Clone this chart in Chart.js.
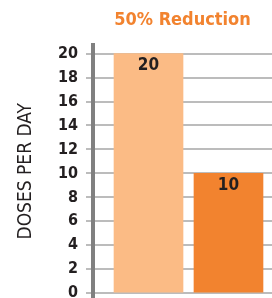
<!DOCTYPE html>
<html>
<head>
<meta charset="utf-8">
<script src="https://cdn.jsdelivr.net/npm/chart.js@4"></script>
<style>
  html, body { margin: 0; padding: 0; background: #fff; }
  #wrap { width: 272px; height: 298px; }
</style>
</head>
<body>
<div id="wrap"><canvas id="dosesChart" width="272" height="298"></canvas></div>
<script>
// data
const categories = ['Current', 'Reduced'];
const dosesPerDay = [20, 10];
const barColors = ['#fbbb85', '#f2832f'];
const yTicks = [0, 2, 4, 6, 8, 10, 12, 14, 16, 18, 20];

const FONT = "'Liberation Sans Narrow', 'DejaVu Sans Condensed', sans-serif";
const TEXT = '#231f20';

// label di dalam batang
const barLabels = {
  id: 'barLabels',
  afterDatasetsDraw(chart) {
    const { ctx } = chart;
    const meta = chart.getDatasetMeta(0);
    ctx.save();
    ctx.font = 'bold 17px ' + FONT;
    ctx.fillStyle = TEXT;
    ctx.textAlign = 'center';
    ctx.textBaseline = 'middle';
    meta.data.forEach((bar, i) => {
      ctx.fillText(String(dosesPerDay[i]), bar.x, bar.y + 12);
    });
    ctx.restore();
  }
};

const ctx = document.getElementById('dosesChart').getContext('2d');
new Chart(ctx, {
  type: 'bar',
  data: {
    datasets: [{
      label: 'Doses per day',
      data: categories.map((c, i) => ({ x: i, y: dosesPerDay[i] })),
      backgroundColor: barColors,
      borderWidth: 0,
      barThickness: 69
    }]
  },
  options: {
    responsive: false,
    animation: false,
    layout: { padding: { left: 11, right: 0, top: 0, bottom: 0 } },
    plugins: {
      legend: { display: false },
      tooltip: { enabled: false },
      title: {
        display: true,
        text: '50% Reduction',
        color: '#f2832f',
        fullSize: false,
        font: { family: FONT, size: 18, weight: 'bold' },
        padding: { top: 10, bottom: 13 }
      }
    },
    scales: {
      x: {
        type: 'linear',
        display: false,
        offset: false,
        min: -0.694,
        max: 1.544
      },
      y: {
        min: -0.4,
        max: 20.75,
        afterBuildTicks: s => { s.ticks = yTicks.map(v => ({ value: v })); },
        afterFit: s => {
          s.width = 82;
          s.paddingTop = 0;
          s.paddingBottom = 0;
        },
        ticks: {
          color: TEXT,
          padding: 8,
          font: { family: FONT, size: 16, weight: 'bold' }
        },
        grid: {
          color: '#bcbcbc',
          lineWidth: 2,
          tickLength: 7
        },
        border: { color: '#808080', width: 4 },
        title: {
          display: true,
          text: 'DOSES PER DAY',
          color: TEXT,
          font: { family: FONT, size: 19 },
          padding: { top: 4, bottom: 4 }
        }
      }
    }
  },
  plugins: [barLabels]
});
</script>
</body>
</html>
